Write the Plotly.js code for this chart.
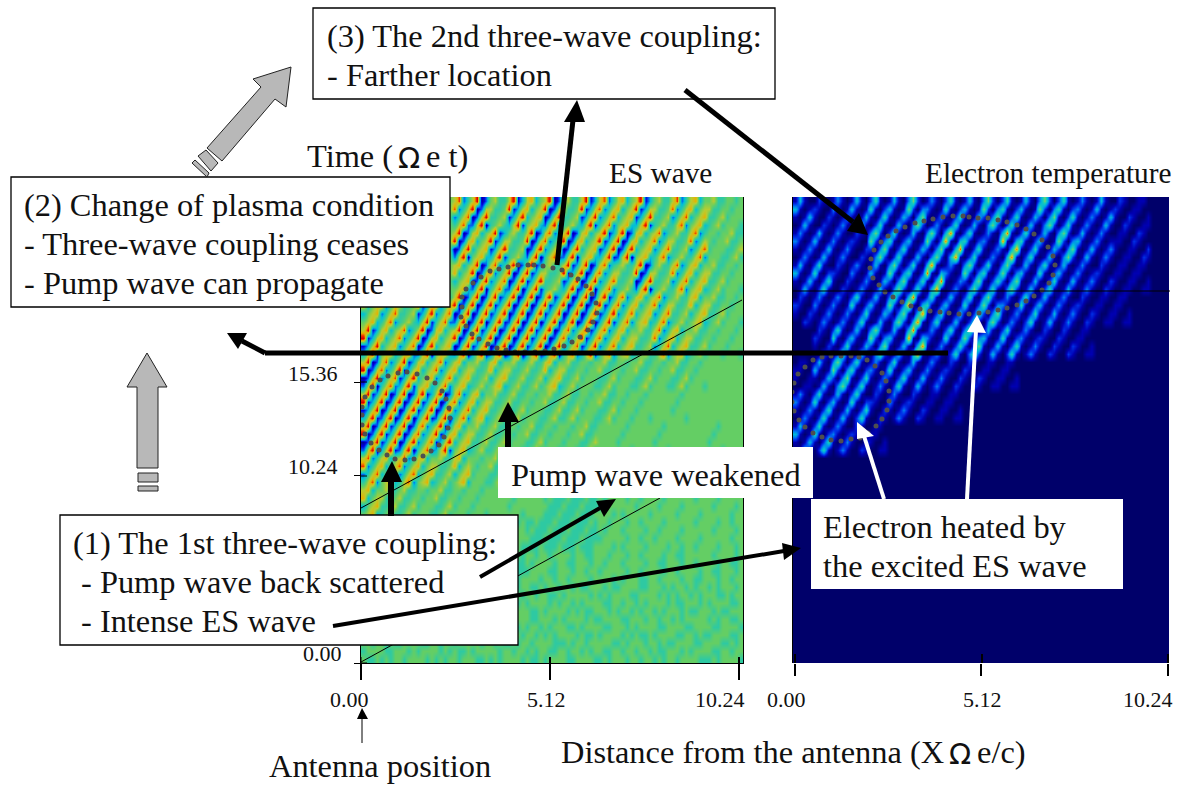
<!DOCTYPE html>
<html><head><meta charset="utf-8">
<script src="https://cdn.plot.ly/plotly-3.0.1.min.js"></script>
<style>html,body{margin:0;padding:0;background:#fff}#c{width:1183px;height:785px}</style>
</head><body><div id="c"></div>
<script>
// ES wave field: top row first, 84 columns, level 0-9
const esWaveRows = [
"5555 5555 5555 5555 5555 6824 6902 5644 6913 6735 6902 5644 6913 6824 6735 6913 5644 6824 6735 5644 5545",
"5555 5555 5555 5555 5555 8246 9026 6445 9136 7356 9026 6445 9136 8246 7356 9136 6445 8246 7356 6445 5455",
"5555 5555 5555 5555 5555 2468 0269 4456 1369 3567 0269 4456 1369 2468 3567 1369 4456 2468 3567 4456 4555",
"5555 5555 5555 5555 5555 4682 2690 4564 3691 5673 2690 4564 3691 4682 5673 3691 4564 4682 5673 4564 5554",
"5555 5555 5555 5555 5555 6902 6735 6913 5644 6902 6824 6902 6735 6913 6902 6735 6824 5644 6824 5545 5644",
"5555 5555 5555 5555 5555 9026 7356 9136 6445 9026 8246 9026 7356 9136 9026 7356 8246 6445 8246 5455 6445",
"5555 5555 5555 5555 5555 0269 3567 1369 4456 0269 2468 0269 3567 1369 0269 3567 2468 4456 2468 4555 4456",
"5555 5555 5555 5555 5555 2690 5673 3691 4564 2690 4682 2690 5673 3691 2690 5673 4682 4564 4682 5554 4564",
"5555 5555 5555 5555 5555 6735 6902 6824 6902 6913 5644 6913 6902 6824 5644 6902 5644 6824 6735 5644 5545",
"5555 5555 5555 5555 5555 7356 9026 8246 9026 9136 6445 9136 9026 8246 6445 9026 6445 8246 7356 6445 5455",
"5555 5555 5555 5555 5555 3567 0269 2468 0269 1369 4456 1369 0269 2468 4456 0269 4456 2468 3567 4456 4555",
"5555 5555 5555 5555 5555 5673 2690 4682 2690 3691 4564 3691 2690 4682 4564 2690 4564 4682 5673 4564 5554",
"6735 6824 5644 6913 6824 6902 6902 6913 6902 6902 6913 6902 6902 6913 6824 6735 6824 5644 6735 5644 5545",
"7356 8246 6445 9136 8246 9026 9026 9136 9026 9026 9136 9026 9026 9136 8246 7356 8246 6445 7356 6445 5455",
"3567 2468 4456 1369 2468 0269 0269 1369 0269 0269 1369 0269 0269 1369 2468 3567 2468 4456 3567 4456 4555",
"5673 4682 4564 3691 4682 2690 2690 3691 2690 2690 3691 2690 2690 3691 4682 5673 4682 4564 5673 4564 5554",
"6913 6735 6824 6902 6735 6902 6913 6902 6902 6913 6902 6824 6913 6824 6735 5644 6824 6735 5644 5545 5545",
"9136 7356 8246 9026 7356 9026 9136 9026 9026 9136 9026 8246 9136 8246 7356 6445 8246 7356 6445 5455 5455",
"1369 3567 2468 0269 3567 0269 1369 0269 0269 1369 0269 2468 1369 2468 3567 4456 2468 3567 4456 4555 4555",
"3691 5673 4682 2690 5673 2690 3691 2690 2690 3691 2690 4682 3691 4682 5673 4564 4682 5673 4564 5554 5554",
"6902 6824 6913 6735 6824 6735 5644 6735 5644 5644 6735 5644 5545 5644 5545 5644 5545 5644 5545 5555 5555",
"9026 8246 9136 7356 8246 7356 6445 7356 6445 6445 7356 6445 5455 6445 5455 6445 5455 6445 5455 5555 5555",
"0269 2468 1369 3567 2468 3567 4456 3567 4456 4456 3567 4456 4555 4456 4555 4456 4555 4456 4555 5555 5555",
"2690 4682 3691 5673 4682 5673 4564 5673 4564 4564 5673 4564 5554 4564 5554 4564 5554 4564 5554 5555 5555",
"6913 6902 6902 6913 6902 6824 6735 5644 5644 5545 5644 5644 5545 5644 5545 5545 5555 5545 5555 5555 5555",
"9136 9026 9026 9136 9026 8246 7356 6445 6445 5455 6445 6445 5455 6445 5455 5455 5555 5455 5555 5555 5555",
"1369 0269 0269 1369 0269 2468 3567 4456 4456 4555 4456 4456 4555 4456 4555 4555 5555 4555 5555 5555 5555",
"3691 2690 2690 3691 2690 4682 5673 4564 4564 5554 4564 4564 5554 4564 5554 5554 5555 5554 5555 5555 5555",
"6902 6913 6902 6824 6913 6735 5644 5644 5545 5644 5545 5545 5644 5555 5545 5555 5545 5555 5555 5545 5555",
"9026 9136 9026 8246 9136 7356 6445 6445 5455 6445 5455 5455 6445 5555 5455 5555 5455 5555 5555 5455 5555",
"0269 1369 0269 2468 1369 3567 4456 4456 4555 4456 4555 4555 4456 5555 4555 5555 4555 5555 5555 4555 5555",
"2690 3691 2690 4682 3691 5673 4564 4564 5554 4564 5554 5554 4564 5555 5554 5555 5554 5555 5555 5554 5555",
"6824 6735 6824 6735 5644 6735 5545 5644 5545 5545 5555 5644 5555 5545 5555 5545 5555 5555 5555 5545 5555",
"8246 7356 8246 7356 6445 7356 5455 6445 5455 5455 5555 6445 5555 5455 5555 5455 5455 5555 5545 5555 5455",
"2468 3567 2468 3567 4456 3567 4555 4456 4555 4555 5555 4456 5555 4555 5455 4555 5545 5455 5555 5455 5555",
"4682 5673 4682 5673 4564 5673 5554 4564 5554 5554 5555 4564 5555 5554 5555 5554 5555 5545 5455 5555 5545",
"6735 5644 5644 5545 5644 5545 5545 5555 5545 5555 4454 4454 4454 5545 5455 5545 5555 5455 5545 5555 5455",
"7356 6445 6445 5455 6445 5455 5455 5555 5455 5555 4544 4544 4544 5455 5545 5455 5545 5555 5455 5545 5555",
"3567 4456 4456 4555 4456 4555 4555 5555 4555 5555 5444 5444 5444 4555 5555 4555 5455 5545 5555 5455 5545",
"5673 4564 4564 5554 4564 5554 5554 5555 5554 5555 4445 4445 4445 5554 5455 5554 5555 5455 5545 5555 5455",
"5545 5545 5545 5545 5545 5545 5545 5545 5545 4454 4454 4454 4454 5545 5545 5455 5545 5555 5455 5545 5455",
"5455 5455 5455 5455 5455 5455 5455 5455 5455 4544 4544 4544 4544 5455 5455 5545 5455 5545 5555 5455 5545",
"4555 4555 4555 4555 4555 4555 4555 4555 4555 5444 5444 5444 5444 4555 5545 5455 4555 5455 5545 5555 5455",
"5554 5554 5554 5554 5554 5554 5554 5554 5554 4445 4445 4445 4445 5554 5455 5545 5554 5545 5455 5545 5545",
"5545 5555 5555 5555 5555 5555 4454 4454 4454 5545 5455 5545 5445 5545 5545 5455 5545 5445 5555 5455 5545",
"5455 5555 5555 5555 5555 5555 4544 4544 4544 5455 5545 5445 5545 5455 5455 5545 5445 5545 5455 5545 5445",
"4555 5555 5555 5555 5555 5555 5444 5444 5444 4555 5445 5545 5455 4555 5545 5455 5545 5455 5545 5445 5545",
"5554 5555 5555 5555 5555 5555 4445 4445 4445 5554 5545 5455 5545 5554 5455 5445 5455 5545 5445 5545 5455",
"5455 4545 5545 4554 5445 5545 4555 4455 5545 5445 4554 5545 4455 5454 4555 5445 5545 4554 5455 4545 5545",
"5545 5455 4545 5544 5454 4555 5445 5455 4554 5545 5445 4555 5545 4545 5554 4555 5454 5455 4545 5544 5455",
"4555 5445 5455 4545 5545 5454 4545 5545 5445 4555 5454 5545 4555 5445 5455 4545 5554 5445 5545 4555 5445",
"5445 4555 5544 5455 4545 5545 5554 4545 5455 5445 4555 5454 5445 5545 4554 5455 4545 5545 4455 5454 4555",
"5554 5445 4555 5445 5545 4545 5455 5554 4555 5445 5545 4555 5454 4555 5445 5545 5455 4545 5555 4545 5445",
"4545 5554 5445 5554 4555 5445 4545 5445 5545 4554 5455 5445 4555 5445 5545 4555 5445 5554 4555 5445 5554",
"5455 4555 5454 4545 5445 5554 5445 4555 5454 5545 4545 5554 5445 4555 5454 5445 4555 5445 5454 4555 5445",
"5545 5454 4555 5445 5455 4555 5545 5454 4545 5455 5544 4545 5455 5554 4545 5545 5454 4555 5445 5554 4545",
"4555 5445 5545 4555 5454 5445 4555 5545 5455 4545 5445 5455 4545 5445 5455 4554 5445 5545 4555 5445 5455",
"5445 4545 5455 5545 4545 5455 5445 4545 5554 5445 4555 5445 5554 4545 5545 5455 4545 5455 5544 4545 5554"
];
// Electron temperature: top row first, 80 columns, level 0-9; unlisted cells are 0
const tempRows = [
"1410 0210 1310 1410 2510 1410 3620 1310 2510 1410 3620 2510 1410 3620 2510 1310 1410 0210 0110",
"4101 2100 3101 4101 5102 4101 6203 3101 5102 4101 6203 5102 4101 6203 5102 3101 4101 2100 1100",
"1014 1002 1013 1014 1025 1014 2036 1013 1025 1014 2036 1025 1014 2036 1025 1013 1014 1002 1001",
"0141 0021 0131 0141 0251 0141 0362 0131 0251 0141 0362 0251 0141 0362 0251 0131 0141 0021 0011",
"1310 1410 1310 0210 3620 2510 1410 3620 4810 2510 1310 4810 2510 1410 3620 1410 1310 0110 0210",
"3101 4101 3101 2100 6203 5102 4101 6203 8104 5102 3101 8104 5102 4101 6203 4101 3101 1100 2100",
"1013 1014 1013 1002 2036 1025 1014 2036 1048 1025 1013 1048 1025 1014 2036 1014 1013 1001 1002",
"0131 0141 0131 0021 0362 0251 0141 0362 0481 0251 0131 0481 0251 0141 0362 0141 0131 0011 0021",
"1410 2510 0210 1310 1410 3620 2510 4810 1310 3620 2510 3620 1410 2510 1410 1310 0210 0110 0110",
"4101 5102 2100 3101 4101 6203 5102 8104 3101 6203 5102 6203 4101 5102 4101 3101 2100 1100 1100",
"1014 1025 1002 1013 1014 2036 1025 1048 1013 2036 1025 2036 1014 1025 1014 1013 1002 1001 1001",
"0141 0251 0021 0131 0141 0362 0251 0481 0131 0362 0251 0362 0141 0251 0141 0131 0021 0011 0011",
"0210 1310 1310 2510 1410 3620 4810 2510 1410 2510 3620 1310 2510 1410 1310 0210 0110 0110",
"2100 3101 3101 5102 4101 6203 8104 5102 4101 5102 6203 3101 5102 4101 3101 2100 1100 1100",
"1002 1013 1013 1025 1014 2036 1048 1025 1014 1025 2036 1013 1025 1014 1013 1002 1001 1001",
"0021 0131 0131 0251 0141 0362 0481 0251 0141 0251 0362 0131 0251 0141 0131 0021 0011 0011",
"0000 0210 2510 1410 3620 1410 4810 1310 2510 3620 1410 2510 1310 0210 0210 0110",
"0000 2100 5102 4101 6203 4101 8104 3101 5102 6203 4101 5102 3101 2100 2100 1100",
"0000 1002 1025 1014 2036 1014 1048 1013 1025 2036 1014 1025 1013 1002 1002 1001",
"0000 0021 0251 0141 0362 0141 0481 0131 0251 0362 0141 0251 0131 0021 0021 0011",
"0110 1410 3620 2510 1310 2510 1410 1310 0210 0210 0110 0110",
"1100 4101 6203 5102 3101 5102 4101 3101 2100 2100 1100 1100",
"1001 1014 2036 1025 1013 1025 1014 1013 1002 1002 1001 1001",
"0011 0141 0362 0251 0131 0251 0141 0131 0021 0021 0011 0011",
"1310 2510 1410 2510 0210 1310 0210 0110 0110",
"3101 5102 4101 5102 2100 3101 2100 1100 1100",
"1013 1025 1014 1025 1002 1013 1002 1001 1001",
"0131 0251 0141 0251 0021 0131 0021 0011 0011",
"1410 2510 1310 0210 0110",
"4101 5102 3101 2100 1100",
"1014 1025 1013 1002 1001",
"0141 0251 0131 0021 0011",
"","","","","","","","","","","","","","","","","","","","","","","","","",""
];
// Time and distance tick values
const xTicks = [0, 5.12, 10.24];
const yTicks = [0, 5.12, 10.24, 15.36, 20.48];
// Dotted outlines, as picture positions in the two plots
const outline1 = [[461,317],[462,307],[462,297],[466,289],[473,283],[481,277],[490,271],[499,269],[508,267],[518,265],[528,265],[534,265],[543,266],[553,268],[562,270],[571,275],[578,279],[586,286],[592,294],[596,303],[597,313],[593,322],[588,330],[580,337],[572,342],[564,346],[554,349],[545,351],[535,352],[525,352],[515,352],[506,350],[497,348],[488,344],[479,339],[472,334],[466,326]];
const outline2 = [[362,407],[365,397],[372,387],[380,380],[388,376],[398,373],[407,372],[417,374],[427,378],[435,383],[442,391],[446,399],[449,408],[450,418],[448,428],[444,437],[439,445],[431,451],[423,456],[414,459],[405,460],[395,459],[387,455],[379,450],[371,443],[365,434],[362,425],[362,415]];
const outline3 = [[915,223],[924,221],[933,219],[943,217],[953,216],[963,216],[969,217],[978,218],[988,218],[998,220],[1007,222],[1017,225],[1026,229],[1034,234],[1042,240],[1048,247],[1053,256],[1055,265],[1053,275],[1049,283],[1042,290],[1034,296],[1026,301],[1017,305],[1007,308],[998,310],[988,312],[979,313],[969,314],[959,314],[949,313],[940,312],[930,311],[920,309],[911,306],[902,302],[893,297],[885,292],[879,285],[873,278],[870,268],[871,259],[874,250],[881,242],[888,236],[896,231],[905,227]];
const outline4 = [[792,392],[794,383],[798,374],[805,367],[813,360],[822,357],[831,356],[841,356],[851,356],[859,357],[867,360],[875,366],[882,373],[886,381],[889,391],[889,401],[887,410],[882,419],[876,426],[868,433],[860,438],[851,439],[841,441],[831,440],[822,437],[813,433],[805,427],[799,420],[794,411],[792,402]];

const W = 1183, H = 785;
const fx = p => p / W, fy = p => 1 - p / H;
const L = {x0:361, x1:743, y0:663, y1:197, sx:36.9, xr:(743-361)/36.9, yr:25.5};
const R = {x0:793, x1:1169, y0:663, y1:197, sx:36.43, xmin:-0.05, xmax:10.27};
const matrix = (rows, n) => rows.map(r => Array.from(r.replace(/ /g,'').padEnd(n,'0')).map(Number)).reverse();
const esZ = matrix(esWaveRows, 84), tZ = matrix(tempRows, 80);
const nRows = esZ.length;

const esScale = [[0,'#00009a'],[.11,'#0000e0'],[.22,'#0060f0'],[.33,'#00c0d8'],[.44,'#2cc9a4'],[.56,'#66ce62'],[.67,'#b8cc30'],[.78,'#e8b000'],[.89,'#f03000'],[1,'#d80000']];
const tScale = [[0,'#00006a'],[.11,'#0000b0'],[.22,'#0030e8'],[.33,'#0080f0'],[.44,'#00b8d8'],[.56,'#20cfb0'],[.67,'#70cf70'],[.78,'#d0d020'],[.89,'#f06000'],[1,'#c00000']];

const dyCell = L.yr / nRows;
const ldata = p => ({x:(p[0]-L.x0)/L.sx, y:(L.y0-p[1])/(L.y0-L.y1)*L.yr});
const rdata = p => ({x:R.xmin+(p[0]-R.x0)/R.sx, y:(R.y0-p[1])/(R.y0-R.y1)*L.yr});
function dots(pts, conv, xa, ya){
  const c = pts.map(conv);
  return {type:'scatter',mode:'markers',x:c.map(d=>d.x),y:c.map(d=>d.y),xaxis:xa,yaxis:ya,
    marker:{color:'#4f4f4f',size:5},hoverinfo:'skip',showlegend:false};
}
const traces = [
 {type:'heatmap',z:esZ,x0:L.xr/168,dx:L.xr/84,y0:dyCell/2,dy:dyCell,zmin:0,zmax:9,colorscale:esScale,zsmooth:'best',showscale:false,xaxis:'x',yaxis:'y',hoverinfo:'skip'},
 {type:'heatmap',z:tZ,x0:R.xmin+(R.xmax-R.xmin)/160,dx:(R.xmax-R.xmin)/80,y0:dyCell/2,dy:dyCell,zmin:0,zmax:9,colorscale:tScale,zsmooth:'best',showscale:false,xaxis:'x2',yaxis:'y2',hoverinfo:'skip'},
 dots(outline1,ldata,'x','y'), dots(outline2,ldata,'x','y'),
 dots(outline3,rdata,'x2','y2'), dots(outline4,rdata,'x2','y2')
];

const shapes = [];
const pathOf = pts => 'M '+pts.map(p=>fx(p[0])+' '+fy(p[1])).join(' L ')+' Z';
const poly = (pts, fill, stroke, w) => shapes.push({type:'path',xref:'paper',yref:'paper',layer:'above',path:pathOf(pts),fillcolor:fill,line:{color:stroke||fill,width:stroke?(w||1):0}});
const seg = (a,b,c,w) => shapes.push({type:'line',xref:'paper',yref:'paper',layer:'above',x0:fx(a[0]),y0:fy(a[1]),x1:fx(b[0]),y1:fy(b[1]),line:{color:c,width:w}});
const rect = (x0,y0,x1,y1,stroke) => shapes.push({type:'rect',xref:'paper',yref:'paper',layer:'above',x0:fx(x0),x1:fx(x1),y0:fy(y0),y1:fy(y1),fillcolor:'#fff',line:{color:stroke||'#fff',width:stroke?1.3:0}});

// thin lines over the plots
seg([361,508],[742,300],'#000',1);
seg([361,662],[660,498],'#000',1);
seg([793,291],[1170,291],'#000',1);
// inner part of the ticks
[361,550,739].forEach((x,i)=>seg([x,657],[x,663],'#000',i?2:1));
[795,982,1168].forEach(x=>seg([x,654],[x,663],'#000',2));
[[367,382],[367,476],[367,663]].forEach(p=>seg([361,p[1]],[p[0],p[1]],'#000',1));

// boxes
rect(313,8,775,99,'#000');
rect(11,177,450,307,'#000');
rect(60,515,518,645,'#000');
rect(498,447,813,498);
rect(811,499,1123,589);

// grey block arrows
const grey='#b8b8b8', dk='#222';
poly([[291,67],[253,79],[261,87],[207,148],[222,161],[275,99],[286,107]],grey,dk);
poly([[198,156],[206,150],[218,163],[211,171]],grey,dk);
poly([[192,163],[195,160],[209,173],[207,177]],grey,dk);
poly([[147,353],[127,387],[137,387],[137,468],[158,468],[158,387],[167,387]],grey,dk);
poly([[138,473],[158,473],[158,482],[138,482]],grey,dk);
poly([[138,486],[158,486],[158,491],[138,491]],grey,dk);

// black arrows
seg([557,265],[573,120],'#000',5);
poly([[577,100],[564,122],[585,122]],'#000');
seg([685,90],[853,222],'#000',5);
poly([[868,235],[847,231],[859,213]],'#000');
seg([948,353],[265,353],'#000',5);
seg([265,353],[242,341],'#000',5);
poly([[227,333],[247,333],[238,349]],'#000');
seg([333,626],[784,551],'#000',4);
poly([[801,548],[782,543],[784,560]],'#000');
seg([480,577],[600,508],'#000',4);
poly([[616,499],[596,501],[604,517]],'#000');
seg([391,516],[391,480],'#000',6);
poly([[392,461],[381,482],[402,482]],'#000');
seg([508,447],[508,420],'#000',6);
poly([[508,402],[498,422],[519,422]],'#000');
// white arrows
seg([967,499],[976,330],'#fff',4);
poly([[977,315],[967,332],[986,333]],'#fff');
seg([884,499],[864,436],'#fff',4);
poly([[857,422],[857,439],[874,436]],'#fff');
// antenna pointer
seg([362,743],[362,717],'#000',1);
poly([[362,708],[357,719],[368,719]],'#000');

// texts: x = left edge (or centre), b = baseline in the picture
const ann=[];
function T(text,x,b,size,opt){
  opt=opt||{};
  ann.push({text,xref:'paper',yref:'paper',x:fx(x),y:fy(b-size*0.28),xanchor:opt.a||'left',yanchor:'middle',showarrow:false,borderpad:0,
    font:{family:opt.f||'Liberation Serif',size,color:'#111'}});
}
const big=32.4;
T('(3) The 2nd three-wave coupling:',326,45,big);
T('- Farther location',326,84,big);
T('(2) Change of plasma condition',23,214,big);
T('- Three-wave coupling ceases',23,253,big);
T('- Pump wave can propagate',23,292,big);
T('(1) The 1st three-wave coupling:',72,552,big);
T('- Pump wave back scattered',80,591,big);
T('- Intense ES wave',80,630,big);
T('Pump wave weakened',510,484,big);
T('Electron heated by',822,536,big);
T('the excited ES wave',822,575,big);
T('Time (',306,165,big);
T('Ω',397,166,29,{f:'DejaVu Sans'});
T('e t)',425,165,big);
T('ES wave',608,181,29.3);
T('Electron temperature',924,181,29.3);
ann.push({text:'Antenna position',xref:'paper',yref:'paper',x:fx(268),y:0,xanchor:'left',yanchor:'bottom',showarrow:false,borderpad:0,font:{family:'Liberation Serif',size:big,color:'#111'}});
T('Distance from the antenna (X',560,761,big);
T('Ω',948,762,29,{f:'DejaVu Sans'});
T('e/c)',976,761,big);
const tick=22;
T('15.36',339,380,tick,{a:'right'});
T('10.24',339,473,tick,{a:'right'});
T('0.00',343,660,tick,{a:'right'});
T('0.00',349,706,tick,{a:'center'});
T('5.12',546,706,tick,{a:'center'});
T('10.24',720,706,tick,{a:'center'});
T('0.00',786,706,tick,{a:'center'});
T('5.12',982,706,tick,{a:'center'});
T('10.24',1148,706,tick,{a:'center'});

const layout={width:W,height:H,margin:{l:0,r:0,t:0,b:0},paper_bgcolor:'#fff',plot_bgcolor:'#fff',showlegend:false,
 xaxis:{domain:[fx(L.x0),fx(L.x1)],range:[0,L.xr],tickmode:'array',tickvals:xTicks,showticklabels:false,ticks:'outside',ticklen:16,tickwidth:2,tickcolor:'#000',showgrid:false,zeroline:false,showline:true,linecolor:'#000',linewidth:1,anchor:'y'},
 yaxis:{domain:[fy(L.y0),fy(L.y1)],range:[0,L.yr],tickmode:'array',tickvals:yTicks,showticklabels:false,ticks:'outside',ticklen:6,tickwidth:1,tickcolor:'#000',showgrid:false,zeroline:false,showline:true,linecolor:'#000',linewidth:1,mirror:true,anchor:'x'},
 xaxis2:{domain:[fx(R.x0),fx(R.x1)],range:[R.xmin,R.xmax],tickmode:'array',tickvals:xTicks,showticklabels:false,ticks:'outside',ticklen:12,tickwidth:2,tickcolor:'#000',showgrid:false,zeroline:false,showline:false,anchor:'y2'},
 yaxis2:{domain:[fy(R.y0),fy(R.y1)],range:[0,L.yr],showticklabels:false,ticks:'',showgrid:false,zeroline:false,showline:true,linecolor:'#000',linewidth:1,anchor:'x2'},
 shapes,annotations:ann};
Plotly.newPlot('c',traces,layout,{displayModeBar:false,staticPlot:true});
</script></body></html>
